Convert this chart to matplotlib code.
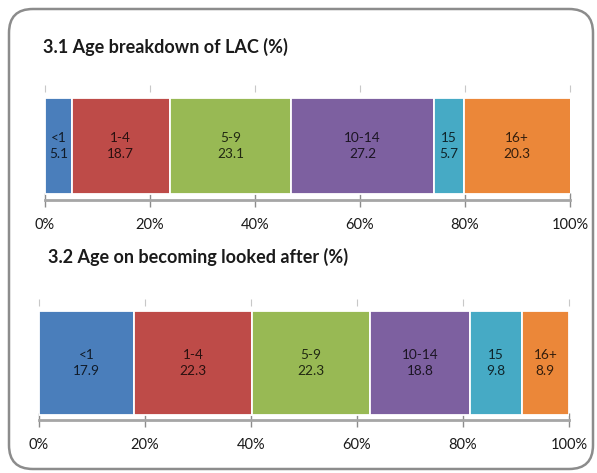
import matplotlib
matplotlib.use("Agg")
import matplotlib.pyplot as plt
from matplotlib.patches import FancyBboxPatch

categories = ["<1", "1-4", "5-9", "10-14", "15", "16+"]
lac_values = [5.1, 18.7, 23.1, 27.2, 5.7, 20.3]
entry_values = [17.9, 22.3, 22.3, 18.8, 9.8, 8.9]
tick_values = [0, 20, 40, 60, 80, 100]
tick_labels = ["0%", "20%", "40%", "60%", "80%", "100%"]
titles = ["3.1 Age breakdown of LAC (%)", "3.2 Age on becoming looked after (%)"]
colors = ["#4A7EBB", "#BE4B48", "#98B954", "#7D60A0", "#46AAC5", "#EB8739"]

plt.rcParams['font.family'] = ['Lato', 'DejaVu Sans']

W, H = 597, 473
fig = plt.figure(figsize=(W / 100, H / 100), dpi=100)

def fx(px):
    return px / W

def fy(py):
    return 1 - py / H

# rounded frame
frame = FancyBboxPatch((fx(9), fy(469)), fx(584), (460) / H,
                       boxstyle="round,pad=0,rounding_size=0.04",
                       mutation_aspect=W / H,
                       transform=fig.transFigure, facecolor="none",
                       edgecolor="#8C8C8C", linewidth=1.8, zorder=-1)
fig.patches.append(frame)

def draw(values, left_px, right_px, top_px, bottom_px, bar_frac, title, title_xy):
    ax = fig.add_axes([fx(left_px), fy(bottom_px), (right_px - left_px) / W,
                       (bottom_px - top_px) / H])
    ax.set_facecolor("none")
    left = 0
    for cat, v, c in zip(categories, values, colors):
        ax.barh(0, v, left=left, height=bar_frac, color=c, edgecolor="white",
                linewidth=1.3, zorder=2)
        ax.text(left + v / 2, 0, f"{cat}\n{v}", ha="center", va="center",
                fontsize=9.8, color="black", alpha=0.78, linespacing=1.35,
                zorder=3)
        left += v
    ax.set_xlim(0, 100)
    ax.set_ylim(-0.5, 0.5)
    ax.set_yticks([])
    ax.set_xticks(tick_values)
    ax.set_xticklabels(tick_labels, fontsize=10.5, color="#1A1A1A")
    for s in ["top", "left", "right"]:
        ax.spines[s].set_visible(False)
    ax.spines["bottom"].set_color("#A6A6A6")
    ax.spines["bottom"].set_linewidth(2.0)
    ax.tick_params(axis="x", direction="inout", length=10, width=1.0,
                   color="#8C8C8C", pad=8)
    sec = ax.secondary_xaxis("top")
    sec.set_xticks(tick_values)
    sec.tick_params(axis="x", direction="out", length=5, width=0.8,
                    color="#C8C8C8", labeltop=False)
    sec.spines["top"].set_visible(False)
    fig.text(fx(title_xy[0]), fy(title_xy[1]), title, fontsize=13,
             fontweight="bold", color="#1A1A1A", ha="left", va="center")
    return ax

draw(lac_values, 45, 570, 92, 200, 0.889, titles[0], (43, 47))
draw(entry_values, 39, 569, 306, 420, 0.912, titles[1], (48, 257))

fig.savefig("out.png", dpi=100)
